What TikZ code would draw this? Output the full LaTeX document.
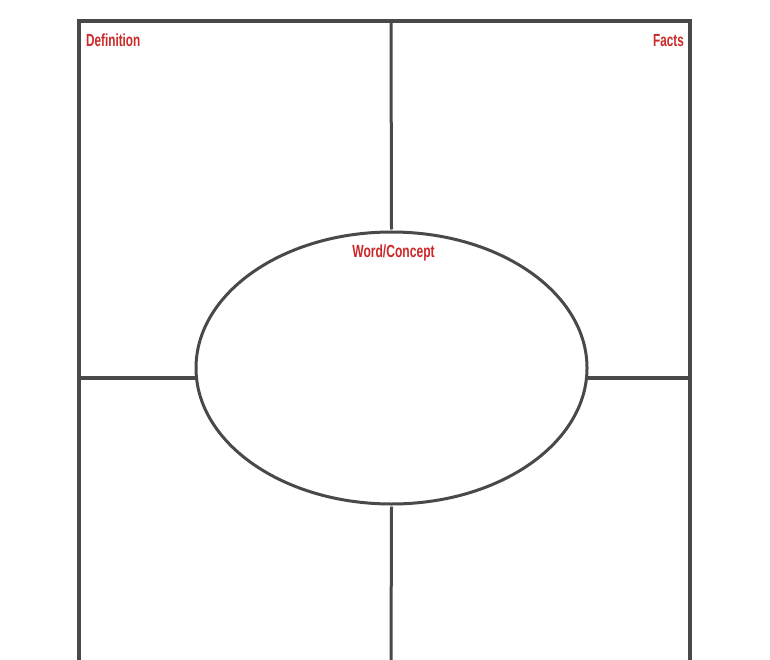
\documentclass[tikz,border=0pt]{standalone}
\usepackage{fontspec}
\setmainfont{Liberation Sans}
\usetikzlibrary{shapes.geometric}
\definecolor{linegray}{HTML}{494949}
\definecolor{labelred}{HTML}{CC2828}
\begin{document}
\begin{tikzpicture}[x=1pt,y=-1pt,
  frame/.style={draw=linegray,line width=4pt},
  divider/.style={draw=linegray,line width=3pt},
  label/.style={text=labelred,font=\fontsize{17.5}{17.5}\selectfont\bfseries,inner sep=0pt}]
\useasboundingbox[fill=white] (0,0) rectangle (770,660);
\coordinate (bl) at (79,662);
\coordinate (tl) at (79,21);
\coordinate (tr) at (689.5,21);
\coordinate (br) at (689.5,662);
\node[draw=linegray,line width=3pt,ellipse,minimum width=391pt,minimum height=272pt,inner sep=0pt] (word) at (391.5,368) {};
\coordinate (topmid) at (391,21);
\coordinate (botmid) at (391,662);
\coordinate (lmid) at (79,378);
\coordinate (rmid) at (689.5,378);
\draw[frame] (bl) -- (tl) -- (tr) -- (br);
\draw[divider] (topmid) -- ([yshift=1pt]word.north);
\draw[divider] ([yshift=-1pt]word.south) -- (botmid);
\draw[frame,line width=4.5pt] (lmid) -- ([xshift=2pt]lmid -| word.west);
\draw[frame,line width=4.5pt] ([xshift=-2pt]rmid -| word.east) -- (rmid);
\node[label,anchor=base west] (def) at (86,47) {\scalebox{0.67}[1]{Definition}};
\node[label,anchor=base east] (facts) at (684,47) {\scalebox{0.67}[1]{Facts}};
\node[label,anchor=base] (wc) at (393.5,257) {\scalebox{0.69}[1]{Word/Concept}};
\end{tikzpicture}
\end{document}
